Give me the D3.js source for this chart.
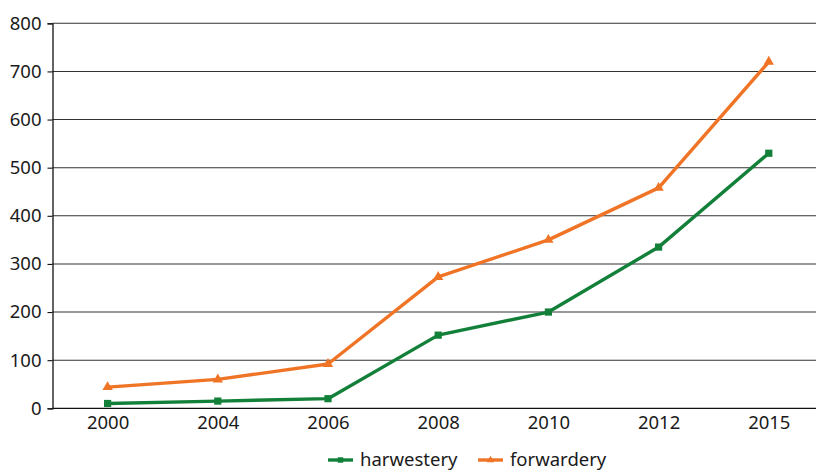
<!DOCTYPE html>
<html>
<head>
<meta charset="utf-8">
<script src="https://cdn.jsdelivr.net/npm/d3@7"></script>
<style>
  html, body { margin: 0; padding: 0; background: #fff; }
  svg { display: block; }
  text { font-family: "Noto Sans", sans-serif; fill: #1a1a1a; }
</style>
</head>
<body>
<svg id="chart" width="816" height="470"></svg>
<script>
// Machine counts by year
const years = ["2000", "2004", "2006", "2008", "2010", "2012", "2015"];
const harwestery = [10, 15, 20, 152, 200, 335, 530];
const forwardery = [44, 60, 92, 273, 350, 458, 720];
const yTicks = [0, 100, 200, 300, 400, 500, 600, 700, 800];

const seriesList = [
  { name: "harwestery", values: harwestery, color: "#13803a", shape: d3.symbolSquare },
  { name: "forwardery", values: forwardery, color: "#f07426", shape: d3.symbolTriangle }
];

const svg = d3.select("#chart");
const plotLeft = 52.5, plotTop = 23.3, plotBottom = 408.3, step = 110.2;

const x = d3.scalePoint()
  .domain(years)
  .range([plotLeft + step / 2, plotLeft + step / 2 + step * (years.length - 1)]);

const y = d3.scaleLinear().domain([0, 800]).range([plotBottom, plotTop]);

// horizontal gridlines
svg.append("g")
  .selectAll("line")
  .data(yTicks.slice(1))
  .join("line")
  .attr("x1", plotLeft).attr("x2", 816)
  .attr("y1", d => y(d)).attr("y2", d => y(d))
  .attr("stroke", "#333").attr("stroke-width", 1.1);

// y axis
const yAxis = svg.append("g")
  .attr("transform", `translate(${plotLeft},0)`)
  .call(d3.axisLeft(y).tickValues(yTicks).tickSize(5).tickPadding(6).tickFormat(d3.format("d")));
yAxis.select(".domain").attr("stroke", "#111").attr("stroke-width", 1.3);
yAxis.selectAll(".tick line").attr("stroke", "#111").attr("stroke-width", 1.1);
yAxis.selectAll("text").style("font-size", "18.5px").attr("fill", "#1a1a1a")
  .attr("font-family", "Noto Sans");

// x axis baseline and labels
const xAxis = svg.append("g")
  .attr("transform", `translate(0,${plotBottom})`)
  .call(d3.axisBottom(x).tickSize(0).tickPadding(8));
xAxis.select(".domain")
  .attr("d", `M${plotLeft},0H816`)
  .attr("stroke", "#111").attr("stroke-width", 1.3);
xAxis.selectAll("text").style("font-size", "18.5px").attr("fill", "#1a1a1a")
  .attr("font-family", "Noto Sans");

// series lines and markers
const line = d3.line().x((d, i) => x(years[i])).y(d => y(d));
seriesList.forEach(s => {
  svg.append("path")
    .datum(s.values)
    .attr("d", line)
    .attr("fill", "none")
    .attr("stroke", s.color)
    .attr("stroke-width", 3.4)
    .attr("stroke-linejoin", "round");
  svg.append("g")
    .selectAll("path")
    .data(s.values)
    .join("path")
    .attr("transform", (d, i) => `translate(${x(years[i])},${y(d)})`)
    .attr("d", d3.symbol().type(s.shape).size(s.shape === d3.symbolSquare ? 52 : 46))
    .attr("fill", s.color);
});

// legend
const legend = svg.append("g").attr("transform", "translate(328,460)");
const legendX = [0, 150];
seriesList.forEach((s, i) => {
  const g = legend.append("g").attr("transform", `translate(${legendX[i]},0)`);
  g.append("line").attr("x1", 0).attr("x2", 25).attr("y1", 0).attr("y2", 0)
    .attr("stroke", s.color).attr("stroke-width", 3.4);
  g.append("path").attr("transform", "translate(12.5,0)")
    .attr("d", d3.symbol().type(s.shape).size(s.shape === d3.symbolSquare ? 30 : 24))
    .attr("fill", s.color);
  g.append("text").attr("x", 32).attr("y", 0).attr("dy", "0.3em")
    .style("font-size", "18.5px").text(s.name);
});
</script>
</body>
</html>
